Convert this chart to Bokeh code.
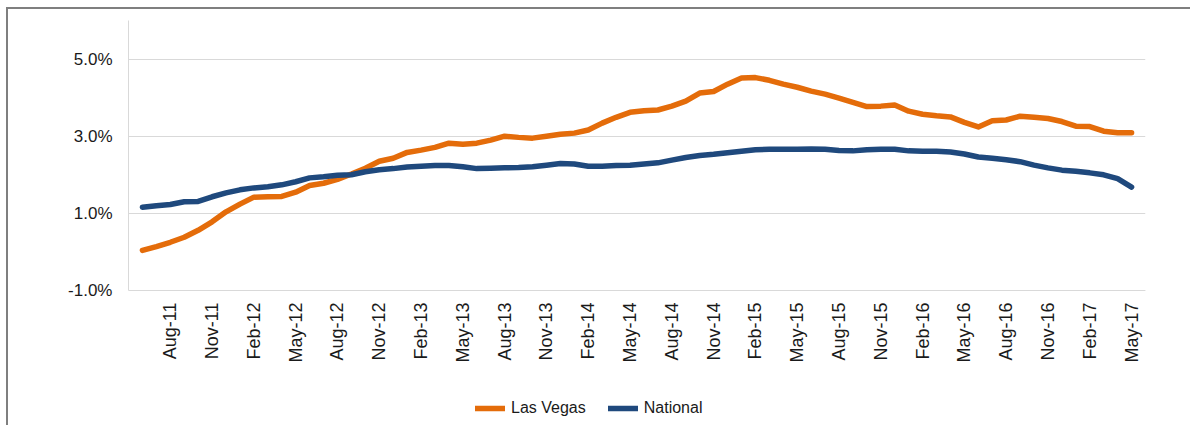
import math
from bokeh.plotting import figure
from bokeh.models import FixedTicker, PrintfTickFormatter, Range1d, Legend, LegendItem
from bokeh.embed import file_html
from bokeh.resources import INLINE

# ---- data (monthly, Jun-11 .. May-17) ----
months = []
_mn = ["Jan", "Feb", "Mar", "Apr", "May", "Jun", "Jul", "Aug", "Sep", "Oct", "Nov", "Dec"]
for _y in range(11, 18):
    for _m in _mn:
        months.append(f"{_m}-{_y}")
months = months[months.index("Jun-11"):months.index("May-17") + 1]

las_vegas = [0.04, 0.14, 0.25, 0.38, 0.56, 0.78, 1.04, 1.24, 1.42, 1.43,
             1.44, 1.55, 1.72, 1.78, 1.88, 2.02, 2.17, 2.35, 2.43, 2.58,
             2.64, 2.71, 2.82, 2.79, 2.82, 2.90, 3.00, 2.97, 2.95, 3.00,
             3.05, 3.08, 3.16, 3.34, 3.49, 3.62, 3.66, 3.68, 3.78, 3.91,
             4.12, 4.16, 4.35, 4.51, 4.52, 4.45, 4.35, 4.27, 4.17, 4.09,
             3.99, 3.88, 3.77, 3.78, 3.81, 3.65, 3.57, 3.53, 3.50, 3.36,
             3.24, 3.40, 3.42, 3.52, 3.49, 3.46, 3.38, 3.26, 3.25, 3.13,
             3.09, 3.09]

national = [1.16, 1.20, 1.23, 1.30, 1.31, 1.43, 1.53, 1.61, 1.66, 1.69,
            1.74, 1.82, 1.92, 1.95, 1.99, 2.00, 2.08, 2.13, 2.16, 2.20,
            2.22, 2.24, 2.24, 2.21, 2.16, 2.17, 2.18, 2.19, 2.21, 2.25,
            2.29, 2.28, 2.22, 2.22, 2.24, 2.25, 2.28, 2.31, 2.38, 2.45,
            2.50, 2.53, 2.57, 2.61, 2.65, 2.66, 2.66, 2.66, 2.67, 2.66,
            2.63, 2.62, 2.65, 2.66, 2.66, 2.62, 2.61, 2.61, 2.59, 2.54,
            2.46, 2.43, 2.39, 2.34, 2.25, 2.18, 2.12, 2.09, 2.05, 2.00,
            1.90, 1.68]

tick_labels = months[2::3]          # Aug-11, Nov-11, ... May-17
y_ticks = [-1, 1, 3, 5]
y_min, y_max = -1, 6

idx = list(range(len(months)))
tick_idx = [months.index(t) for t in tick_labels]

FONT = "Liberation Sans"
ORANGE = "#E46C0A"
NAVY = "#1F497D"
GRID = "#D9D9D9"

# frame: 407 px tall; value axis keeps 7 units over 270 px, the rest is label room
px_per_unit = 270 / (y_max - y_min)
frame_h = 407
p = figure(width=1184, height=418, output_backend="svg", toolbar_location=None,
           x_range=Range1d(-1, len(months)),
           y_range=Range1d(y_max - frame_h / px_per_unit, y_max),
           min_border_left=120, min_border_right=47, min_border_top=11,
           min_border_bottom=0)
p.styles = {"border-top": "2px solid #7F7F7F", "border-left": "2px solid #7F7F7F",
            "margin-left": "6px", "margin-top": "7px"}
p.outline_line_color = None
p.background_fill_color = "white"
p.border_fill_color = "white"

r_lv = p.line(idx, las_vegas, line_color=ORANGE, line_width=5.5,
              line_cap="round", line_join="round")
r_nat = p.line(idx, national, line_color=NAVY, line_width=5.5,
               line_cap="round", line_join="round")

# axes
p.xaxis.fixed_location = y_min
p.xaxis.ticker = FixedTicker(ticks=tick_idx)
p.xaxis.major_label_overrides = {i: t for i, t in zip(tick_idx, tick_labels)}
p.xaxis.major_label_orientation = math.pi / 2
p.yaxis.ticker = FixedTicker(ticks=y_ticks)
p.yaxis.formatter = PrintfTickFormatter(format="%.1f%%")
p.yaxis.bounds = (y_min, y_max)
for ax in (p.xaxis, p.yaxis):
    ax.axis_line_color = GRID
    ax.axis_line_width = 1
    ax.major_tick_line_color = None
    ax.minor_tick_line_color = None
    ax.major_tick_out = 0
    ax.major_tick_in = 0
    ax.minor_tick_out = 0
    ax.minor_tick_in = 0
    ax.major_label_text_font = FONT
    ax.major_label_text_color = "#1a1a1a"
p.yaxis.major_label_text_font_size = "17px"
p.xaxis.major_label_text_font_size = "18px"
p.xaxis.major_label_standoff = 12
p.yaxis.major_label_standoff = 16

p.xgrid.grid_line_color = None
p.ygrid.ticker = FixedTicker(ticks=y_ticks)
p.ygrid.grid_line_color = GRID
p.ygrid.grid_line_width = 1

legend = Legend(items=[LegendItem(label="Las Vegas", renderers=[r_lv]),
                       LegendItem(label="National", renderers=[r_nat])],
                location=(347, 9), orientation="horizontal",
                border_line_color=None, background_fill_alpha=0,
                padding=0, margin=0, spacing=22, label_standoff=6,
                glyph_width=30, glyph_height=20, label_height=20,
                label_text_font=FONT, label_text_font_size="16px",
                label_text_color="#1a1a1a")
p.add_layout(legend, "center")

open("out.html", "w").write(file_html(p, INLINE))
